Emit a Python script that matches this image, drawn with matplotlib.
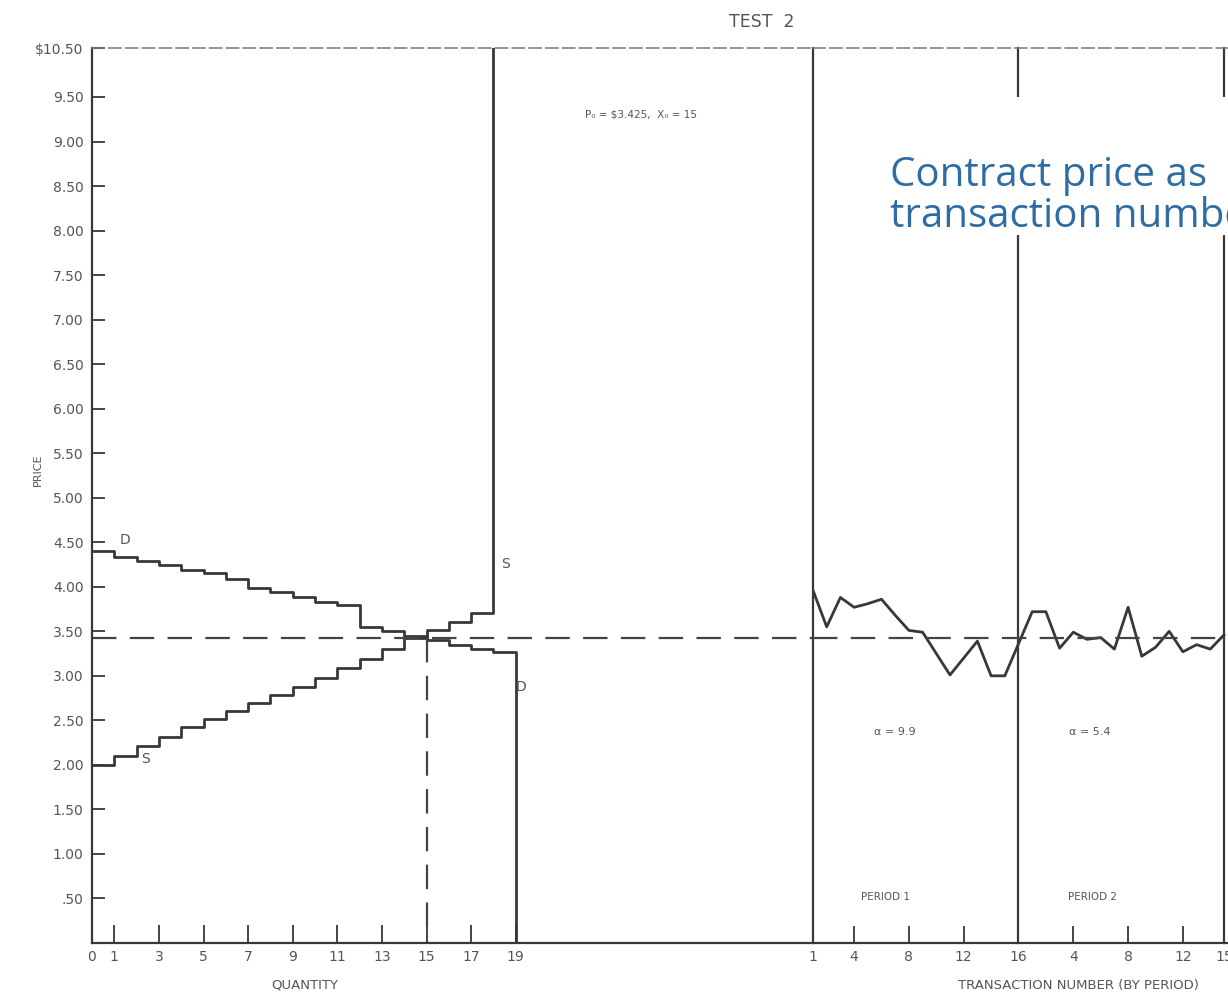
import numpy as np
import matplotlib.pyplot as plt
from matplotlib.patches import Rectangle

# induced demand and supply schedules (price of each unit)
demand = [4.40, 4.34, 4.29, 4.25, 4.19, 4.15, 4.09, 3.99, 3.94, 3.88,
          3.83, 3.80, 3.55, 3.50, 3.45, 3.40, 3.35, 3.30, 3.27]
supply = [2.00, 2.10, 2.21, 2.31, 2.42, 2.52, 2.61, 2.70, 2.79, 2.88,
          2.98, 3.09, 3.19, 3.30, 3.42, 3.51, 3.60, 3.70]
p_eq = 3.425
x_eq = 15

# contract prices, one per transaction
period1_prices = [3.96, 3.55, 3.88, 3.77, 3.81, 3.86, 3.68, 3.51, 3.49, 3.25,
                  3.01, 3.20, 3.39, 3.00, 3.00]
period2_prices = [3.72, 3.72, 3.31, 3.49, 3.41, 3.43, 3.30, 3.77, 3.22, 3.32,
                  3.50, 3.27, 3.35, 3.30, 3.46]
period_bounds = [1, 16, 31]
alphas = ["9.9", "5.4"]

price_ticks = [0.5, 1.0, 1.5, 2.0, 2.5, 3.0, 3.5, 4.0, 4.5, 5.0,
               5.5, 6.0, 6.5, 7.0, 7.5, 8.0, 8.5, 9.0, 9.5]
price_labels = [".50", "1.00", "1.50", "2.00", "2.50", "3.00", "3.50", "4.00",
                "4.50", "5.00", "5.50", "6.00", "6.50", "7.00", "7.50", "8.00",
                "8.50", "9.00", "9.50"]
qty_ticks = [0, 1, 3, 5, 7, 9, 11, 13, 15, 17, 19]
trans_ticks = [1, 4, 8, 12, 16, 20, 24, 28, 31]
trans_labels = ["1", "4", "8", "12", "16", "4", "8", "12", "15"]

W, H = 1228, 1007
YMAX = 10.05
INK = "#383838"
TXT = "#555555"

fig = plt.figure(figsize=(W / 100, H / 100), dpi=100)
ax1 = fig.add_axes([92 / W, (H - 943) / H, (813 - 92) / W, (943 - 48) / H])
ax2 = fig.add_axes([813 / W, (H - 943) / H, (W - 813) / W, (943 - 48) / H])

for ax in (ax1, ax2):
    ax.set_ylim(0, YMAX)
    ax.set_facecolor("none")
    ax.spines["right"].set_visible(False)
    ax.spines["bottom"].set_color(INK)
    ax.spines["bottom"].set_linewidth(1.6)
    ax.spines["top"].set_color("#777777")
    ax.spines["top"].set_linewidth(1.1)
    ax.spines["top"].set_linestyle((0, (8, 3)))
    ax.tick_params(colors=INK, labelcolor=TXT, labelsize=10, direction="in",
                   width=1.3)

# ---- left panel: supply and demand ----
ax1.set_xlim(0, (813 - 92) / 22.3)
ax1.spines["left"].set_color(INK)
ax1.spines["left"].set_linewidth(1.6)

dx = np.append(np.arange(len(demand)), [len(demand), len(demand)])
dy = np.append(demand, [demand[-1], 0])
ax1.step(dx, dy, where="post", color=INK, lw=2.0)

sx = np.append(np.arange(len(supply)), [len(supply), len(supply)])
sy = np.append(supply, [supply[-1], YMAX])
ax1.step(sx, sy, where="post", color=INK, lw=2.0)

ax1.axhline(p_eq, color="#444444", lw=1.6, ls=(0, (11, 6)))
ax1.plot([x_eq, x_eq], [p_eq, 0], color="#444444", lw=1.6, ls=(0, (11, 6)))

ax1.set_yticks(price_ticks + [YMAX], price_labels + ["\\$10.50"])
ax1.tick_params(axis="y", length=9, pad=6)
ax1.set_xticks(qty_ticks, [str(q) for q in qty_ticks])
ax1.tick_params(axis="x", length=13, pad=5)

ax1.text(1.5, 4.53, "D", color=TXT, fontsize=10, ha="center", va="center")
ax1.text(2.4, 2.07, "S", color=TXT, fontsize=10, ha="center", va="center")
ax1.text(18.55, 4.26, "S", color=TXT, fontsize=10, ha="center", va="center")
ax1.text(19.25, 2.88, "D", color=TXT, fontsize=10, ha="center", va="center")
ax1.text(24.6, 9.3, "P₀ = \\$3.425,  X₀ = 15", color=TXT, fontsize=7.5,
         ha="center", va="center")

# ---- right panel: contract prices by transaction ----
ax2.set_xlim(1, 1 + (W - 813) / 13.7)
ax2.spines["left"].set_visible(False)
ax2.tick_params(axis="y", left=False, labelleft=False)

pos1 = np.arange(1, len(period1_prices) + 1)
pos2 = period_bounds[1] + np.arange(1, len(period2_prices) + 1)
ax2.plot(np.concatenate([pos1, pos2]), period1_prices + period2_prices,
         color=INK, lw=2.0)
for b in period_bounds:
    ax2.axvline(b, color=INK, lw=1.6, clip_on=False)
ax2.axhline(p_eq, color="#444444", lw=1.6, ls=(0, (11, 6)))

ax2.set_xticks(trans_ticks, trans_labels)
ax2.tick_params(axis="x", length=12, pad=5)

alpha_pos = [7.0, 21.2]
period_pos = [6.3, 21.4]
for i, a in enumerate(alphas):
    ax2.text(alpha_pos[i], 2.37, "α = " + a, color=TXT, fontsize=8,
             ha="center", va="center")
    ax2.text(period_pos[i], 0.52, "PERIOD %d" % (i + 1), color=TXT,
             fontsize=7.5, ha="center", va="center")

# ---- labels ----
fig.text(762 / W, 1 - 22 / H, "TEST  2", color=TXT, fontsize=12.5,
         ha="center", va="center")
fig.text(38 / W, 1 - 470 / H, "PRICE", color=TXT, fontsize=8,
         rotation=90, ha="center", va="center")
fig.text(305 / W, 1 - 985 / H, "QUANTITY", color=TXT, fontsize=9.5,
         ha="center", va="center")
fig.text(958 / W, 1 - 985 / H, "TRANSACTION NUMBER (BY PERIOD)", color=TXT,
         fontsize=9.5, ha="left", va="center")

# caption box
fig.patches.append(Rectangle((875 / W, 1 - 235 / H), (W - 875) / W, 138 / H,
                             transform=fig.transFigure, facecolor="white",
                             edgecolor="none", zorder=5))
blue = "#2e6da4"
fig.text(890 / W, 1 - 186 / H, "Contract price as",
         color=blue, fontsize=29, family="Open Sans", va="baseline", zorder=6)
fig.text(890 / W, 1 - 227 / H, "transaction number", color=blue,
         fontsize=29, family="Open Sans", va="baseline", zorder=6)

fig.savefig("out.png", dpi=100)
